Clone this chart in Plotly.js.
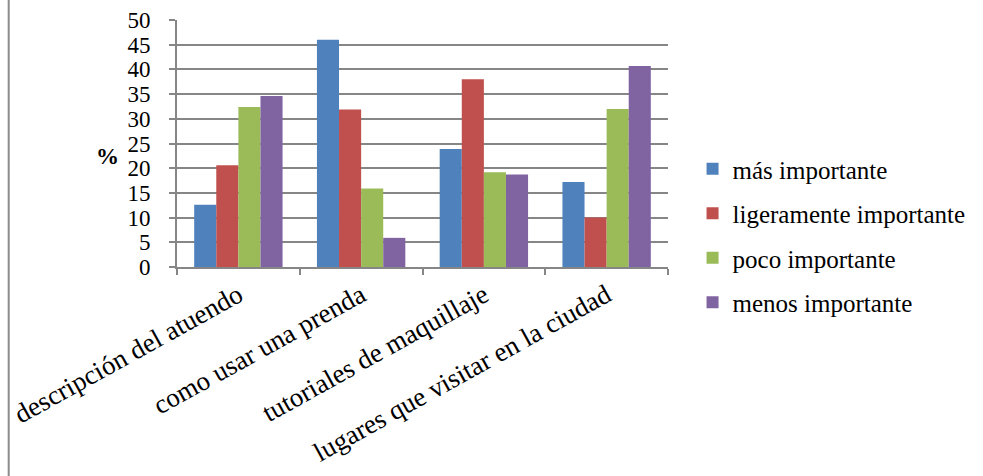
<!DOCTYPE html>
<html>
<head>
<meta charset="utf-8">
<script src="https://cdn.plot.ly/plotly-3.0.1.min.js"></script>
<style>
html,body{margin:0;padding:0;background:#fff;}
#chart{width:983px;height:476px;}
</style>
</head>
<body>
<div id="chart"></div>
<script>
const categories = ["descripción del atuendo", "como usar una prenda", "tutoriales de maquillaje", "lugares que visitar en la ciudad"];
const seriesNames = ["más importante", "ligeramente importante", "poco importante", "menos importante"];
const masImportante = [12.6, 46.0, 23.9, 17.2];
const ligeramenteImportante = [20.6, 31.9, 38.0, 10.0];
const pocoImportante = [32.4, 15.9, 19.2, 32.0];
const menosImportante = [34.6, 5.9, 18.7, 40.7];
const yTicks = [0, 5, 10, 15, 20, 25, 30, 35, 40, 45, 50];

const seriesValues = [masImportante, ligeramenteImportante, pocoImportante, menosImportante];
const colors = ["#4F81BD", "#C0504D", "#9BBB59", "#8064A2"];
const font = "Liberation Serif";

const data = seriesValues.map((vals, i) => ({
  type: "bar",
  name: seriesNames[i],
  x: categories,
  y: vals,
  legendgroup: "g" + i,
  marker: {color: colors[i], line: {width: 0}},
  hoverinfo: "x+y+name"
}));

const layout = {
  width: 983, height: 476,
  margin: {l: 177, r: 313, t: 20, b: 209},
  paper_bgcolor: "#ffffff",
  plot_bgcolor: "#ffffff",
  font: {family: font, color: "#000", size: 22},
  barmode: "group",
  bargap: 0.28,
  bargroupgap: 0,
  showlegend: true,
  legend: {
    x: 1.05, y: 0.1275, xanchor: "left", yanchor: "middle",
    traceorder: "grouped", tracegroupgap: 9,
    font: {family: font, size: 25, color: "#000"},
    bgcolor: "rgba(0,0,0,0)"
  },
  xaxis: {
    type: "category",
    tickangle: -29,
    tickfont: {family: font, size: 27, color: "#000"},
    showline: true, linecolor: "#868686", linewidth: 2,
    ticks: "outside", tickson: "boundaries", ticklen: 6, tickcolor: "#868686", tickwidth: 2,
    showgrid: false, zeroline: false, fixedrange: true
  },
  yaxis: {
    range: [0, 50],
    tickvals: yTicks,
    ticktext: yTicks.map(String),
    tickfont: {family: font, size: 23, color: "#000"},
    showline: true, linecolor: "#868686", linewidth: 2,
    ticks: "outside", ticklen: 6, tickcolor: "#868686", tickwidth: 2,
    ticklabelstandoff: 14,
    showgrid: true, gridcolor: "#868686", gridwidth: 2,
    zeroline: false, fixedrange: true
  },
  annotations: [{
    text: "<b>%</b>", xref: "paper", yref: "paper",
    x: -0.170, y: 0.449, showarrow: false,
    font: {family: font, size: 23, color: "#000"}
  }],
  shapes: [{
    type: "line", xref: "paper", yref: "paper",
    x0: -0.3428, x1: -0.3428, y0: -0.86, y1: 1.09,
    line: {color: "#8a8a8a", width: 2}
  }]
};

Plotly.newPlot("chart", data, layout, {displayModeBar: false, staticPlot: true});
</script>
</body>
</html>
